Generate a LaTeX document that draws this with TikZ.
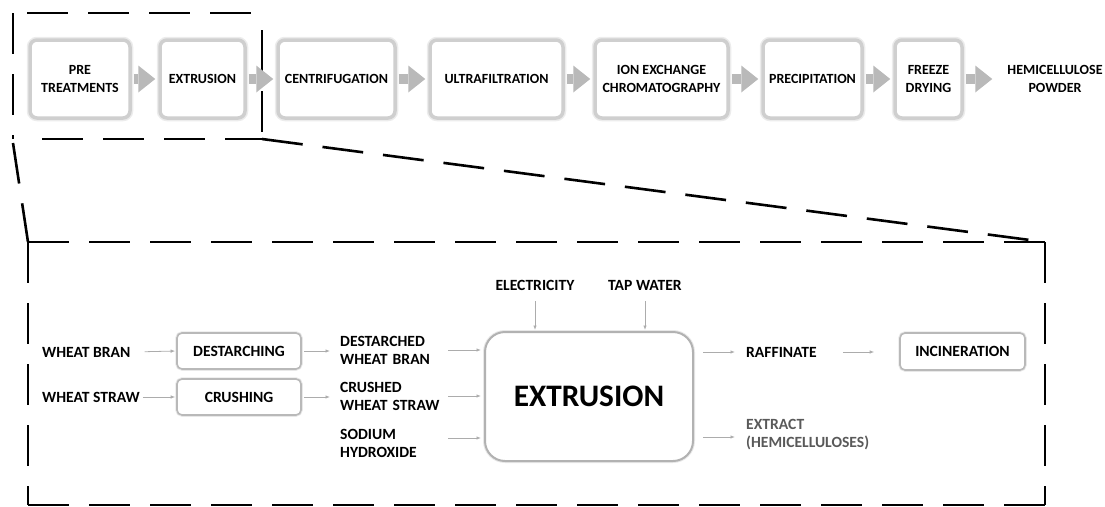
\documentclass[tikz,border=0pt]{standalone}
\usepackage{fontspec}
\setmainfont{Carlito}
\usetikzlibrary{arrows.meta}
\begin{document}
\begin{tikzpicture}[x=1pt,y=-1pt,
  topbox/.style={draw=gray!38, line width=3.5pt, rounded corners=7pt, fill=white,
    preaction={draw=gray!15, line width=6.5pt},
    minimum height=78pt, inner sep=2pt, align=center,
    font=\fontsize{14}{17.5}\selectfont\bfseries, text=black},
  toptext/.style={inner sep=2pt, align=center, font=\fontsize{14}{17.5}\selectfont\bfseries, text=black},
  toparrow/.style={draw=gray!55, line width=10pt,
    -{Triangle[length=17pt,width=27pt,line width=0pt]}, shorten <=2pt, shorten >=3pt},
  btext/.style={inner sep=2pt, align=left, font=\fontsize{15.6}{18}\selectfont\bfseries, text=black},
  sbox/.style={draw=gray!55, line width=1.6pt, rounded corners=5pt, fill=white,
    preaction={draw=gray!18, line width=3.5pt},
    minimum width=124pt, minimum height=36pt, inner sep=2pt,
    font=\fontsize{15.6}{18}\selectfont\bfseries, text=black},
  bigbox/.style={draw=gray!60, line width=2pt, rounded corners=20pt, fill=white,
    preaction={draw=gray!18, line width=4pt},
    minimum width=208pt, minimum height=129pt, inner sep=2pt,
    font=\fontsize{31.3}{36}\selectfont\bfseries, text=black},
  thinarrow/.style={draw=gray!65, line width=0.8pt, -{Latex[length=4.5pt,width=3.5pt]}},
  dashline/.style={draw=black, line width=2.6pt, dash pattern=on 41pt off 20pt}
]
\useasboundingbox (0,0) rectangle (1105,506);

% zoom frames
\draw[dashline] (27,13) -- (262,13);
\draw[dashline] (13,13) -- (13,139);
\draw[dashline] (262,30) -- (262,139);
\draw[dashline] (42,139) -- (262,139);
\draw[dashline] (13,143) -- (28,242);
\draw[dashline] (262,139) -- (1045,242);
\draw[dashline] (28,242) -- (1045,242);
\draw[dashline] (28,242) -- (28,505);
\draw[dashline] (1045,242) -- (1045,505);
\draw[dashline] (28,505) -- (1045,505);

% top process chain
\node[topbox, minimum width=100pt] (pre) at (80,79) {PRE\\TREATMENTS};
\node[topbox, minimum width=85pt] (ext1) at (202.5,79) {EXTRUSION};
\node[topbox, minimum width=117pt] (cen) at (336.5,79) {CENTRIFUGATION};
\node[topbox, minimum width=133pt] (ultra) at (496.5,79) {ULTRAFILTRATION};
\node[topbox, minimum width=133pt] (ion) at (661.5,79) {ION EXCHANGE\\CHROMATOGRAPHY};
\node[topbox, minimum width=99pt] (prec) at (812.5,79) {PRECIPITATION};
\node[topbox, minimum width=67pt] (fd) at (928.5,79) {FREEZE\\DRYING};
\node[toptext] (powder) at (1055,79) {HEMICELLULOSE\\POWDER};

\foreach \a/\b in {pre/ext1, ext1/cen, cen/ultra, ultra/ion, ion/prec, prec/fd}
  \draw[toparrow] (\a.east) -- (\b.west);
\draw[toparrow, shorten >=13pt] (fd.east) -- (powder.west);

% detail of extrusion
\node[btext, anchor=west] (wb) at (40,352) {WHEAT BRAN};
\node[btext, anchor=west] (ws) at (40,397) {WHEAT STRAW};
\node[sbox] (dest) at (239,351) {DESTARCHING};
\node[sbox] (crush) at (239,397) {CRUSHING};
\draw[thinarrow, shorten <=12pt, shorten >=1pt] (wb.east) -- (dest.west);
\draw[thinarrow, shorten <=1pt, shorten >=1pt] (ws.east) -- (crush.west);

\node[btext, anchor=west, text width=100pt] (dst) at (338,350) {DESTARCHED\\WHEAT BRAN};
\node[btext, anchor=west, text width=100pt] (cst) at (338,396) {CRUSHED\\WHEAT STRAW};
\node[btext, anchor=west, text width=100pt] (naoh) at (338,443) {SODIUM\\HYDROXIDE};

\draw[thinarrow, shorten <=2pt, shorten >=8pt] (dest.east) -- (dest.east -| dst.west);
\draw[thinarrow, shorten <=2pt, shorten >=8pt] (crush.east) -- (crush.east -| cst.west);

\node[bigbox] (ext) at (589,396.5) {EXTRUSION};

\draw[thinarrow, shorten <=6pt, shorten >=3pt] (dst.east) -- (dst.east -| ext.west);
\draw[thinarrow, shorten <=6pt, shorten >=3pt] (cst.east) -- (cst.east -| ext.west);
\draw[thinarrow, shorten <=6pt, shorten >=3pt] ([yshift=5pt]naoh.east) -- ([yshift=5pt]naoh.east -| ext.west);

\node[btext] (elec) at (535,285) {ELECTRICITY};
\node[btext] (tap) at (645,285) {TAP WATER};
\draw[thinarrow, shorten <=9pt, shorten >=1pt] (elec.south) -- (elec.south |- ext.north);
\draw[thinarrow, shorten <=9pt, shorten >=1pt] (tap.south) -- (tap.south |- ext.north);

\node[btext, anchor=west] (raff) at (744,352) {RAFFINATE};
\node[btext, anchor=west, text=black!65] (extr) at (744,435) {EXTRACT\\(HEMICELLULOSES)};
\node[sbox, minimum width=125pt, minimum height=37pt] (inc) at (962.5,351.5) {INCINERATION};

\draw[thinarrow, shorten <=9pt, shorten >=9pt] (ext.east |- raff.west) -- (raff.west);
\draw[thinarrow, shorten <=9pt, shorten >=9pt] ([yshift=-2pt]ext.east |- extr.west) -- ([yshift=-2pt]extr.west);
\draw[thinarrow, shorten <=24pt, shorten >=25pt] (raff.east) -- (raff.east -| inc.west);
\end{tikzpicture}
\end{document}
